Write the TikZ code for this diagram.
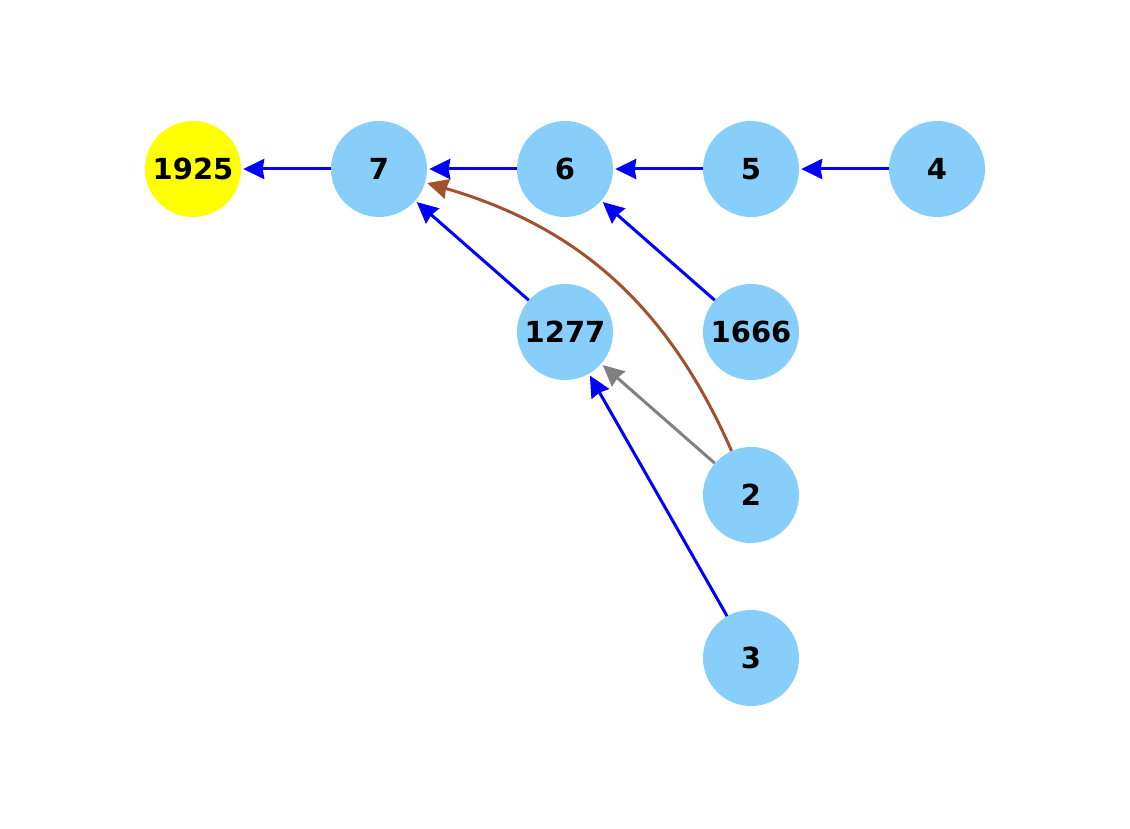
\documentclass[tikz,border=0pt]{standalone}
\usepackage{fontspec}
\setmainfont{DejaVu Sans}
\usetikzlibrary{arrows.meta}
\definecolor{nodeblue}{HTML}{87CEFA}
\definecolor{sienna}{HTML}{A0522D}
\definecolor{pureyellow}{HTML}{FFFF00}
\definecolor{pureblue}{HTML}{0000FF}
\definecolor{midgray}{HTML}{808080}
\begin{document}
\begin{tikzpicture}[x=1pt,y=-1pt,
  vert/.style={circle,fill=nodeblue,minimum size=96pt,inner sep=0pt,font=\fontsize{29}{34}\selectfont\bfseries},
  edge/.style={line width=3pt,-{Stealth[length=21pt,width=20pt,inset=1.5pt]},shorten >=2pt},
  blueedge/.style={edge,draw=pureblue},
  grayedge/.style={edge,draw=midgray},
  brownedge/.style={edge,draw=sienna}]
\useasboundingbox (0,0) rectangle (1130,829);
\node[vert,fill=pureyellow] (n1925) at (193,169) {1925};
\node[vert] (n7) at (379,169) {7};
\node[vert] (n6) at (565,169) {6};
\node[vert] (n5) at (751,169) {5};
\node[vert] (n4) at (937,169) {4};
\node[vert] (n1277) at (565,332) {1277};
\node[vert] (n1666) at (751,332) {1666};
\node[vert] (n2) at (751,495) {2};
\node[vert] (n3) at (751,658) {3};
\draw[blueedge] (n7) -- (n1925);
\draw[blueedge] (n6) -- (n7);
\draw[blueedge] (n5) -- (n6);
\draw[blueedge] (n4) -- (n5);
\draw[blueedge] (n1277) -- (n7);
\draw[blueedge] (n1666) -- (n6);
\draw[blueedge] (n3) -- (n1277);
\draw[grayedge] (n2) -- (n1277);
\draw[brownedge] (n2) to[bend right=25] (n7);
\end{tikzpicture}
\end{document}
